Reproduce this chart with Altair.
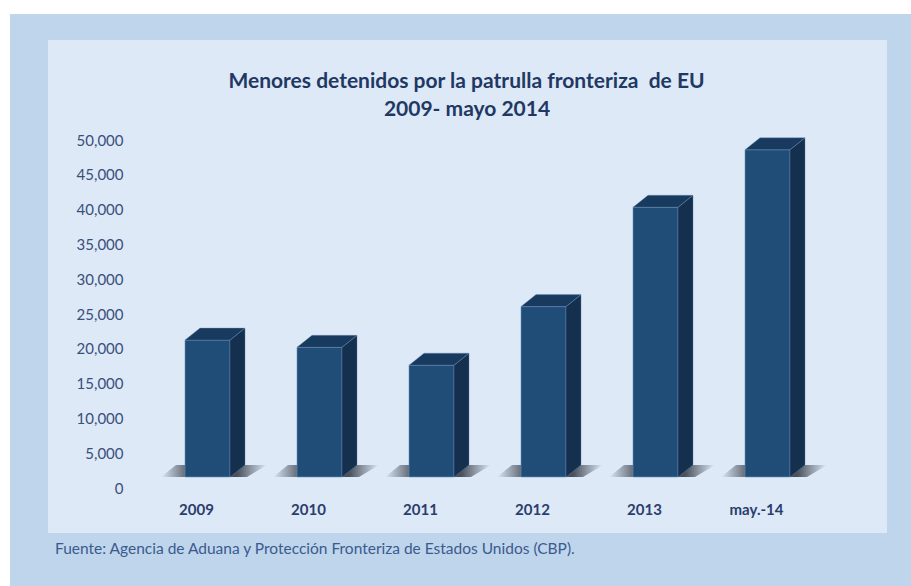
import json
import altair as alt
import pandas as pd

# ---- data ----
categories = ["2009", "2010", "2011", "2012", "2013", "may.-14"]
values = [19668, 18634, 16067, 24481, 38759, 47017]
y_ticks = [0, 5000, 10000, 15000, 20000, 25000, 30000, 35000, 40000, 45000, 50000]
title_lines = ["Menores detenidos por la patrulla fronteriza\u00a0 de EU", "2009- mayo 2014"]
source_note = "Fuente: Agencia de Aduana y Protección Fronteriza de Estados Unidos (CBP)."

# ---- layout (pixels) ----
W, H = 672, 348
PAD_L, PAD_T = 140, 129
TOTAL_W, TOTAL_H = 911, 586
SLOT = W / len(categories)
YMAX = 50000
FRONT_L, FRONT_R = -11, 34      # front face, px from slot centre
DX, DY = 15, 12                 # 3-D depth in px
ux = 1 / SLOT                   # x data units per px
uy = YMAX / H                   # y data units per px

front, side, top, shadow = [], [], [], []
for i, (c, v) in enumerate(zip(categories, values)):
    cx = i + 0.5
    front.append({"cat": c, "x": cx + FRONT_L * ux, "x2": cx + FRONT_R * ux, "y": v, "y2": 0})
    d = DY * uy
    side += [
        {"cat": c, "x": cx + FRONT_R * ux, "y": v, "y2": 0},
        {"cat": c, "x": cx + (FRONT_R + DX) * ux, "y": v + d, "y2": d},
    ]
    top += [
        {"cat": c, "x": cx + FRONT_L * ux, "y": v, "y2": v},
        {"cat": c, "x": cx + (FRONT_L + DX) * ux, "y": v + d, "y2": v},
        {"cat": c, "x": cx + FRONT_R * ux, "y": v + d, "y2": v},
        {"cat": c, "x": cx + (FRONT_R + DX) * ux, "y": v + d, "y2": v + d},
    ]
    shadow += [
        {"cat": c, "x": cx + (FRONT_L - 24) * ux, "y": 0, "y2": 0},
        {"cat": c, "x": cx + (FRONT_L - 9) * ux, "y": d, "y2": 0},
        {"cat": c, "x": cx + (FRONT_R + DX + 2) * ux, "y": d, "y2": 0},
        {"cat": c, "x": cx + (FRONT_R + DX + 22) * ux, "y": d, "y2": d},
    ]

front_df = pd.DataFrame(front)
side_df = pd.DataFrame(side)
top_df = pd.DataFrame(top)
shadow_df = pd.DataFrame(shadow)

x_scale = alt.Scale(domain=[0, len(categories)], nice=False, zero=False)
y_scale = alt.Scale(domain=[0, YMAX], nice=False)

label_expr = json.dumps(categories) + "[floor(datum.value)]"
x_axis = alt.Axis(values=[i + 0.5 for i in range(len(categories))], labelExpr=label_expr,
                  title=None, ticks=False, domain=False, grid=False, labelPadding=25,
                  labelFont="Lato", labelFontSize=15, labelFontWeight="bold",
                  labelColor="#2b3d6b", labelOverlap=False, zindex=2)
y_axis = alt.Axis(values=y_ticks, labelExpr="format(datum.value, ',.0f')", title=None,
                  ticks=False, domain=False, grid=False, labelPadding=17, labelOffset=11,
                  labelFont="Lato", labelFontSize=15, labelColor="#3a4f7c",
                  labelOverlap=False, labelFlush=False, zindex=2)

X = lambda: alt.X("x:Q", scale=x_scale, axis=x_axis)
Y = lambda: alt.Y("y:Q", scale=y_scale, axis=y_axis)

one = alt.Data(values=[{}])

outer_white_top = alt.Chart(one).mark_rect(color="white").encode(
    x=alt.value(-PAD_L), x2=alt.value(TOTAL_W - PAD_L), y=alt.value(-PAD_T), y2=alt.value(14 - PAD_T))
outer_white_left = alt.Chart(one).mark_rect(color="white").encode(
    x=alt.value(-PAD_L), x2=alt.value(10 - PAD_L), y=alt.value(-PAD_T), y2=alt.value(TOTAL_H - PAD_T))
inner_panel = alt.Chart(one).mark_rect(color="#dde9f6").encode(
    x=alt.value(48 - PAD_L), x2=alt.value(887 - PAD_L), y=alt.value(40 - PAD_T), y2=alt.value(533 - PAD_T))

shadow_grad = alt.Gradient(
    gradient="linear", x1=0, y1=0, x2=1, y2=0,
    stops=[alt.GradientStop(offset=0, color="rgba(25,30,40,0)"),
           alt.GradientStop(offset=0.28, color="rgba(25,30,40,0.75)"),
           alt.GradientStop(offset=0.72, color="rgba(25,30,40,0.75)"),
           alt.GradientStop(offset=1, color="rgba(25,30,40,0)")])

shadow_layer = alt.Chart(shadow_df).mark_area(color=shadow_grad).encode(
    x=X(), y=Y(), y2="y2:Q", detail="cat:N")

front_layer = alt.Chart(front_df).mark_bar(color="#1f4d78", stroke="#6d90b8", strokeWidth=0.6).encode(
    x=X(), x2="x2:Q", y=Y(), y2="y2:Q")

side_layer = alt.Chart(side_df).mark_area(color="#15304f", stroke="#5f7fa6", strokeWidth=0.4).encode(
    x=X(), y=Y(), y2="y2:Q", detail="cat:N")

top_layer = alt.Chart(top_df).mark_area(color="#183a5f", stroke="#6d90b8", strokeWidth=0.4).encode(
    x=X(), y=Y(), y2="y2:Q", detail="cat:N")

title1 = alt.Chart(one).mark_text(
    text=title_lines[0], align="center", baseline="middle", font="Lato", fontSize=21,
    fontWeight="bold", color="#1f3864").encode(x=alt.value(466.5 - PAD_L), y=alt.value(82 - PAD_T))
title2 = alt.Chart(one).mark_text(
    text=title_lines[1], align="center", baseline="middle", font="Lato", fontSize=21,
    fontWeight="bold", color="#1f3864").encode(x=alt.value(467 - PAD_L), y=alt.value(110 - PAD_T))

note_layer = alt.Chart(one).mark_text(
    text=source_note, align="left", baseline="middle", font="Lato", fontSize=15.5,
    color="#3b5a8e").encode(x=alt.value(55 - PAD_L), y=alt.value(549 - PAD_T))

chart = alt.layer(
    outer_white_top, outer_white_left, inner_panel,
    shadow_layer, front_layer, side_layer, top_layer, title1, title2, note_layer
).properties(
    width=W, height=H,
    background="#bfd5ec",
    padding={"left": PAD_L, "top": PAD_T, "right": TOTAL_W - PAD_L - W, "bottom": TOTAL_H - PAD_T - H},
    autosize=alt.AutoSizeParams(type="none"),
).configure_view(stroke=None)

chart.save("out.html", embed_options={"renderer": "svg", "actions": False})
